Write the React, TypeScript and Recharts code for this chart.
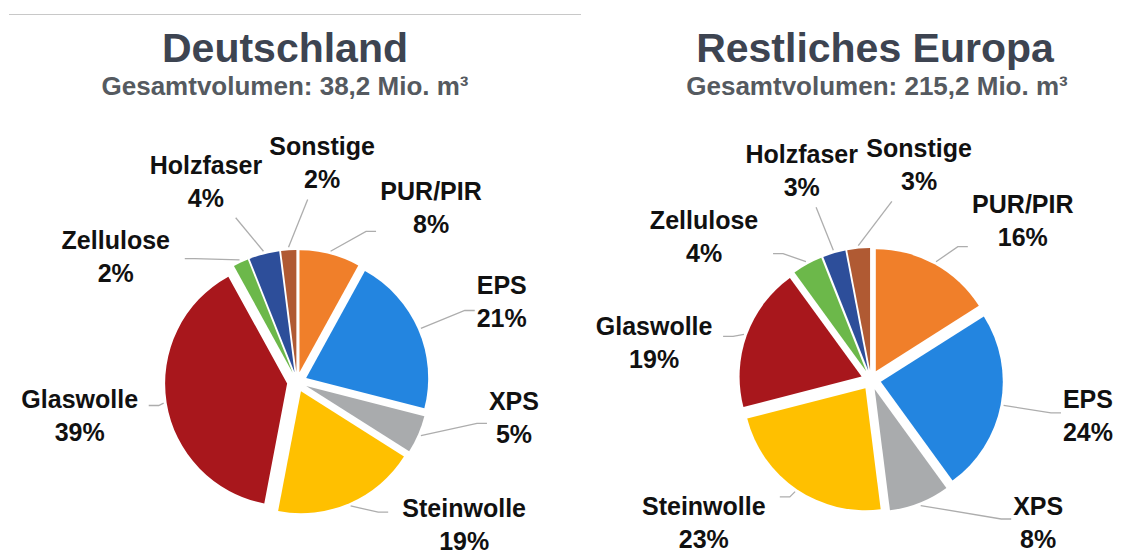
import React from 'react';
import { PieChart, Pie, Cell, Sector } from 'recharts';

const categories = ['PUR/PIR', 'EPS', 'XPS', 'Steinwolle', 'Glaswolle', 'Zellulose', 'Holzfaser', 'Sonstige'];
const colors = ['#F07F2A', '#2385E0', '#A9ABAD', '#FFC000', '#A8171C', '#6CB84A', '#2D4E9A', '#B05A33'];
const germanyShares = [8, 21, 5, 19, 39, 2, 4, 2];
const europeShares = [16, 24, 8, 23, 19, 4, 3, 3];
const titles = ['Deutschland', 'Restliches Europa'];
const totalVolumes = ['38,2', '215,2'];

const RAD = Math.PI / 180;
const RADIUS = 122;
const EXPLODE = 10;
const LABEL_R = 220;
const LABEL_MAX_DY = 143; // labels must stay above the bottom edge
const LABEL_FONT = 25;
const FONT = '"Liberation Sans", Arial, sans-serif';

// keeps an angle (clockwise from 12 o'clock) out of the zone below the pie
function clampBottom(a: number): number {
  const limit = Math.acos(LABEL_MAX_DY / LABEL_R) / RAD;
  const n = ((a % 360) + 360) % 360;
  let m = n;
  if (n > 180 - limit && n <= 180) m = 180 - limit;
  else if (n > 180 && n < 180 + limit) m = 180 + limit;
  return a - n + m;
}

// label angles pushed apart so the small slices' labels don't collide
function spreadAngles(values: number[], minGap: number): number[] {
  const total = values.reduce((a, b) => a + b, 0);
  let acc = 0;
  const a = values.map((v) => {
    const m = ((acc + v / 2) / total) * 360;
    acc += v;
    return m;
  });
  for (let it = 0; it < 400; it++) {
    for (let i = 0; i < a.length; i++) {
      const j = (i + 1) % a.length;
      let gap = a[j] - a[i];
      if (j === 0) gap += 360;
      if (gap < minGap) {
        const d = (minGap - gap) / 2;
        a[i] -= d;
        a[j] += d;
      }
    }
    for (let i = 0; i < a.length; i++) a[i] = clampBottom(a[i]);
  }
  return a;
}

const ExplodedSector = (props: any) => {
  const { cx, cy, midAngle } = props;
  return (
    <Sector
      {...props}
      cx={cx + EXPLODE * Math.cos(-midAngle * RAD)}
      cy={cy + EXPLODE * Math.sin(-midAngle * RAD)}
    />
  );
};

const makeLabel = (labelAngles: number[]) => (props: any) => {
  const { cx, cy, midAngle, outerRadius, index, name, value } = props;
  const pt = (r: number, a: number) => [cx + r * Math.sin(a * RAD), cy - r * Math.cos(a * RAD)];
  const mid = 90 - midAngle;
  const [sx, sy] = pt(outerRadius + EXPLODE + 3, mid);
  const [lx, ly] = pt(LABEL_R, labelAngles[index]);

  // box around the two text lines
  const hw = (String(name).length * 0.56 * LABEL_FONT) / 2 + 6;
  const hh = 36;
  const dx = sx - lx;
  const dy = sy - ly;
  const tx = dx !== 0 ? hw / Math.abs(dx) : Infinity;
  const ty = dy !== 0 ? hh / Math.abs(dy) : Infinity;
  let points: string;
  if (tx < ty) {
    // attach to the side with a short horizontal stub
    const ex = lx + Math.sign(dx) * hw;
    const ey = ly + dy * tx;
    points = `${sx},${sy} ${ex + Math.sign(dx) * 10},${ey} ${ex},${ey}`;
  } else {
    const ex = lx + dx * ty;
    const ey = ly + Math.sign(dy) * hh;
    points = `${sx},${sy} ${ex},${ey}`;
  }

  return (
    <g>
      <polyline points={points} fill="none" stroke="#ADADAD" strokeWidth={1.3} />
      <text
        x={lx}
        textAnchor="middle"
        fontFamily={FONT}
        fontWeight="bold"
        fontSize={LABEL_FONT}
        fill="#111"
      >
        <tspan x={lx} y={ly - 8}>{name}</tspan>
        <tspan x={lx} y={ly + 25}>{value}%</tspan>
      </text>
    </g>
  );
};

interface PanelProps {
  title: string;
  volume: string;
  shares: number[];
  cx: number;
  cy: number;
  titleX: number;
  subX: number;
}

const Panel: React.FC<PanelProps> = ({ title, volume, shares, cx, cy, titleX, subX }) => {
  const data = categories.map((name, i) => ({ name, value: shares[i] }));
  const labelAngles = spreadAngles(shares, 31);
  return (
    <div style={{ position: 'relative', width: 573, height: 557 }}>
      <PieChart width={573} height={557}>
        <Pie
          data={data}
          dataKey="value"
          nameKey="name"
          cx={cx}
          cy={cy}
          outerRadius={RADIUS}
          startAngle={90}
          endAngle={-270}
          stroke="none"
          shape={ExplodedSector}
          label={makeLabel(labelAngles)}
          labelLine={false}
          isAnimationActive={false}
        >
          {data.map((d, i) => (
            <Cell key={d.name} fill={colors[i]} />
          ))}
        </Pie>
      </PieChart>
      <svg width={573} height={120} style={{ position: 'absolute', left: 0, top: 0, pointerEvents: 'none' }}>
        <text
          x={titleX}
          y={62}
          textAnchor="middle"
          fontFamily={FONT}
          fontWeight="bold"
          fontSize={41}
          fill="#3D4451"
        >
          {title}
        </text>
        <text
          x={subX}
          y={95}
          textAnchor="middle"
          fontFamily={FONT}
          fontWeight="bold"
          fontSize={26}
          fill="#555A60"
        >
          Gesamtvolumen: {volume} Mio. m³
        </text>
      </svg>
    </div>
  );
};

export default function App() {
  return (
    <div
      style={{
        position: 'absolute',
        left: 0,
        top: 0,
        width: 1146,
        height: 557,
        background: '#fff',
        display: 'flex',
      }}
    >
      <div style={{ position: 'absolute', left: 9, top: 14, width: 572, height: 1, background: '#C8C8C8' }} />
      <Panel title={titles[0]} volume={totalVolumes[0]} shares={germanyShares} cx={292} cy={377} titleX={285} subX={285} />
      <Panel title={titles[1]} volume={totalVolumes[1]} shares={europeShares} cx={293} cy={375} titleX={302} subX={304} />
    </div>
  );
}
